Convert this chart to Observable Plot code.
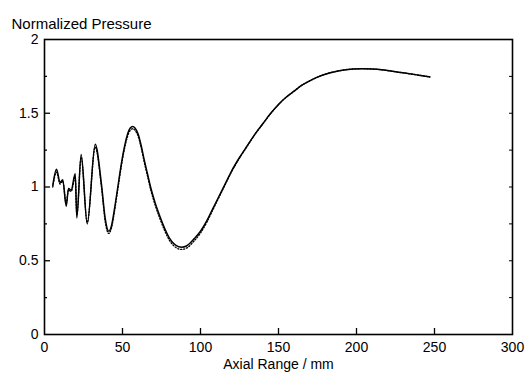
<!DOCTYPE html>
<html>
<head>
<meta charset="utf-8">
<script src="https://cdn.jsdelivr.net/npm/d3@7"></script>
<script src="https://cdn.jsdelivr.net/npm/@observablehq/plot@0.6"></script>
<style>
  html, body { margin: 0; padding: 0; background: #fff; }
  #chart svg { display: block; }
</style>
</head>
<body>
<div id="chart"></div>
<script>
// Axial range (mm)
const xRange = [5.3, 7.7, 10, 11.7, 13.9, 15.4, 17.1, 19.7, 20.7, 23.5, 27.4, 32.5, 36.5, 39, 41.2, 43, 45, 47, 49, 51, 53, 55, 56.5, 58, 60, 62, 64, 66, 68, 71, 74, 77, 80, 83, 86, 88, 91, 96, 100, 104, 108, 112, 116, 120, 125, 130, 135, 140, 145, 150, 155, 160, 165, 170, 175, 180, 186, 192, 198, 204, 210, 216, 222, 228, 234, 240, 247];
// Normalized pressure — solid curve
const ySolid = [1.01, 1.12, 1.03, 1.05, 0.87, 0.99, 0.98, 1.09, 0.79, 1.22, 0.75, 1.29, 1.02, 0.78, 0.70, 0.74, 0.86, 1.00, 1.14, 1.26, 1.35, 1.40, 1.41, 1.40, 1.36, 1.28, 1.18, 1.09, 1.00, 0.89, 0.80, 0.72, 0.655, 0.615, 0.595, 0.592, 0.60, 0.65, 0.70, 0.77, 0.855, 0.94, 1.025, 1.11, 1.20, 1.28, 1.36, 1.43, 1.50, 1.56, 1.61, 1.65, 1.69, 1.72, 1.745, 1.765, 1.782, 1.794, 1.80, 1.802, 1.80, 1.795, 1.786, 1.777, 1.768, 1.758, 1.746];
// Normalized pressure — dotted curve (nearly coincident)
const yDotted = [1.00, 1.10, 1.02, 1.04, 0.89, 0.98, 0.97, 1.07, 0.81, 1.20, 0.76, 1.27, 1.00, 0.76, 0.685, 0.725, 0.845, 0.985, 1.125, 1.245, 1.335, 1.385, 1.395, 1.385, 1.345, 1.265, 1.165, 1.075, 0.985, 0.875, 0.785, 0.705, 0.64, 0.60, 0.58, 0.577, 0.585, 0.635, 0.688, 0.76, 0.847, 0.933, 1.02, 1.105, 1.196, 1.277, 1.358, 1.428, 1.498, 1.559, 1.609, 1.65, 1.69, 1.72, 1.745, 1.765, 1.782, 1.794, 1.80, 1.802, 1.80, 1.795, 1.786, 1.777, 1.768, 1.758, 1.746];

const xTicks = [0, 50, 100, 150, 200, 250, 300];
const yTicks = [0, 0.5, 1, 1.5, 2];
const yMinor = [0.25, 0.75, 1.25, 1.75];
const title = "Normalized Pressure";
const xLabel = "Axial Range / mm";

const W = 525, H = 376;
const mL = 44, mR = 13, mT = 39, mB = 42;
const pw = W - mL - mR, ph = H - mT - mB;

const solid = xRange.map((x, i) => ({x, y: ySolid[i]}));
const dotted = xRange.map((x, i) => ({x, y: yDotted[i]}));

const chart = Plot.plot({
  width: W, height: H,
  marginLeft: mL, marginRight: mR, marginTop: mT, marginBottom: mB,
  style: {fontFamily: "'Liberation Sans', Arial, sans-serif", fontSize: "14px", color: "black", background: "white"},
  x: {domain: [0, 300]},
  y: {domain: [0, 2]},
  marks: [
    Plot.axisX(xTicks, {tickSize: 0, tickPadding: 8, fontSize: 14, label: null, tickFormat: d => String(d)}),
    Plot.axisY(yTicks, {tickSize: 0, tickPadding: 6, fontSize: 14, label: null, tickFormat: d => String(d)}),
    Plot.ruleX(xTicks.slice(1, -1), {x: d => d, insetTop: ph - 6, stroke: "black", strokeWidth: 1.3}),
    Plot.ruleY(yTicks.slice(1, -1), {y: d => d, insetRight: pw - 6, stroke: "black", strokeWidth: 1.3}),
    Plot.ruleY(yMinor, {y: d => d, insetRight: pw - 3, stroke: "black", strokeWidth: 1.3}),
    Plot.ruleY(yMinor.concat(yTicks.slice(1, -1)), {y: d => d, insetLeft: pw - 3, stroke: "black", strokeWidth: 1}),
    Plot.frame({stroke: "black", strokeWidth: 1.6}),
    Plot.line(dotted, {x: "x", y: "y", curve: "monotone-x", stroke: "black", strokeWidth: 1.3, strokeDasharray: "1.2,1.8"}),
    Plot.line(solid, {x: "x", y: "y", curve: "monotone-x", stroke: "black", strokeWidth: 1.5}),
    Plot.text([title], {frameAnchor: "top-left", textAnchor: "start", dx: -33, dy: -21, fontSize: 15, fill: "black"}),
    Plot.text([xLabel], {frameAnchor: "bottom", dy: 34, fontSize: 14, fill: "black"})
  ]
});
document.getElementById("chart").appendChild(chart);
</script>
</body>
</html>
